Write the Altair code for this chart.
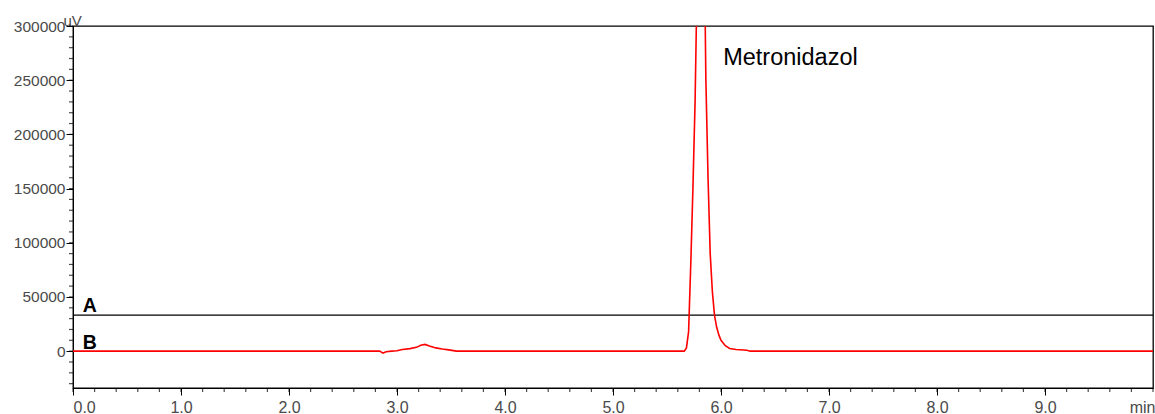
import altair as alt
import pandas as pd

# Trace B (red) : retention time (min) and signal (uV)
time_b = [0.0, 2.84, 2.87, 2.90, 2.95, 3.00, 3.05, 3.12, 3.18, 3.22, 3.26, 3.30, 3.36, 3.42, 3.48, 3.55,
          5.66, 5.68, 5.70, 5.72, 5.74, 5.76, 5.78, 5.80, 5.82, 5.84, 5.86, 5.88, 5.90, 5.92, 5.94,
          5.96, 5.98, 6.00, 6.04, 6.08, 6.14, 6.24, 6.27, 10.0]
signal_b = [0, 0, -1800, -600, 0, 300, 1500, 2300, 3500, 5500, 6200, 4800, 3000, 2000, 1200, 0,
            0, 3000, 18000, 80000, 150000, 230000, 350000, 520000, 580000, 420000, 250000, 160000, 90000, 55000, 33000,
            22000, 15000, 10000, 5000, 2500, 1500, 800, 0, 0]

# Trace A (black, offset baseline)
time_a = [0.0, 10.0]
signal_a = [33300, 33300]

# Annotations
peak_name = ["Metronidazol"]
peak_label_t = [6.02]
peak_label_v = [264000]
trace_labels = ["A", "B"]
trace_label_t = [0.09, 0.09]
trace_label_v = [36000, 1800]

y_major = [0, 50000, 100000, 150000, 200000, 250000, 300000]
y_minor = list(range(-30000, 300001, 10000))
x_major = [float(i) for i in range(0, 10)]
x_minor = [round(i * 0.2, 1) for i in range(0, 51)]

df_b = pd.DataFrame({"t": time_b, "v": signal_b})
df_a = pd.DataFrame({"t": time_a, "v": signal_a})
df_pk = pd.DataFrame({"t": peak_label_t, "v": peak_label_v, "name": peak_name})
df_tr = pd.DataFrame({"t": trace_label_t, "v": trace_label_v, "name": trace_labels})

xs = alt.Scale(domain=[0, 10], nice=False, zero=False)
ys = alt.Scale(domain=[-34000, 300000], nice=False, zero=False)

FONT = "Liberation Sans"
GREY = "#4a4a4a"

x_axis = alt.Axis(values=x_major, format=".1f", tickSize=7, labelFontSize=16, labelColor=GREY,
                  labelFont=FONT, domainColor="black", tickColor="black", grid=False, labelPadding=4,
                  labelBaseline="top",
                  title="min", titleFont=FONT, titleFontSize=16, titleFontWeight="normal", titleColor=GREY,
                  titleAnchor="end", titleAlign="right", titleX=1082, titleY=11, titleBaseline="top")
y_axis = alt.Axis(values=y_major, format="d", tickSize=7, labelFontSize=15.5, labelColor=GREY,
                  labelFont=FONT, domainColor="black", tickColor="black", grid=False, labelPadding=1,
                  title="uV", titleFont=FONT, titleFontSize=15, titleFontWeight="normal", titleColor=GREY,
                  titleAngle=0, titleAlign="left", titleBaseline="alphabetic", titleX=-10, titleY=-1)

line_b = alt.Chart(df_b).mark_line(color="#ff0000", strokeWidth=1.6, clip=True).encode(
    x=alt.X("t:Q", scale=xs, axis=x_axis),
    y=alt.Y("v:Q", scale=ys, axis=y_axis),
)

# minor ticks
minor_x = alt.Chart(pd.DataFrame({"t": x_minor})).mark_tick(color="black", size=4, thickness=1.2, orient="vertical").encode(
    x=alt.X("t:Q", scale=xs),
    y=alt.value(364),
)
minor_y = alt.Chart(pd.DataFrame({"v": y_minor})).mark_tick(color="black", size=4, thickness=1.2, orient="horizontal").encode(
    y=alt.Y("v:Q", scale=ys),
    x=alt.value(-2),
)

line_a = alt.Chart(df_a).mark_line(color="black", strokeWidth=1.3).encode(
    x=alt.X("t:Q", scale=xs), y=alt.Y("v:Q", scale=ys)
)

pk_text = alt.Chart(df_pk).mark_text(align="left", baseline="alphabetic", font=FONT, fontSize=23.5, color="black").encode(
    x=alt.X("t:Q", scale=xs), y=alt.Y("v:Q", scale=ys), text="name:N"
)
tr_text = alt.Chart(df_tr).mark_text(align="left", baseline="alphabetic", font=FONT, fontSize=19.5,
                                     fontWeight="bold", color="black").encode(
    x=alt.X("t:Q", scale=xs), y=alt.Y("v:Q", scale=ys), text="name:N"
)

chart = alt.layer(line_a, line_b, minor_x, minor_y, pk_text, tr_text).properties(
    width=1080, height=362,
    autosize=alt.AutoSizeParams(type="none"),
    padding={"left": 73, "top": 26, "right": 2, "bottom": 26},
    background="white",
).configure_view(stroke="black", strokeWidth=1.3)

chart.save("out.html", embed_options={"renderer": "svg", "actions": False})
